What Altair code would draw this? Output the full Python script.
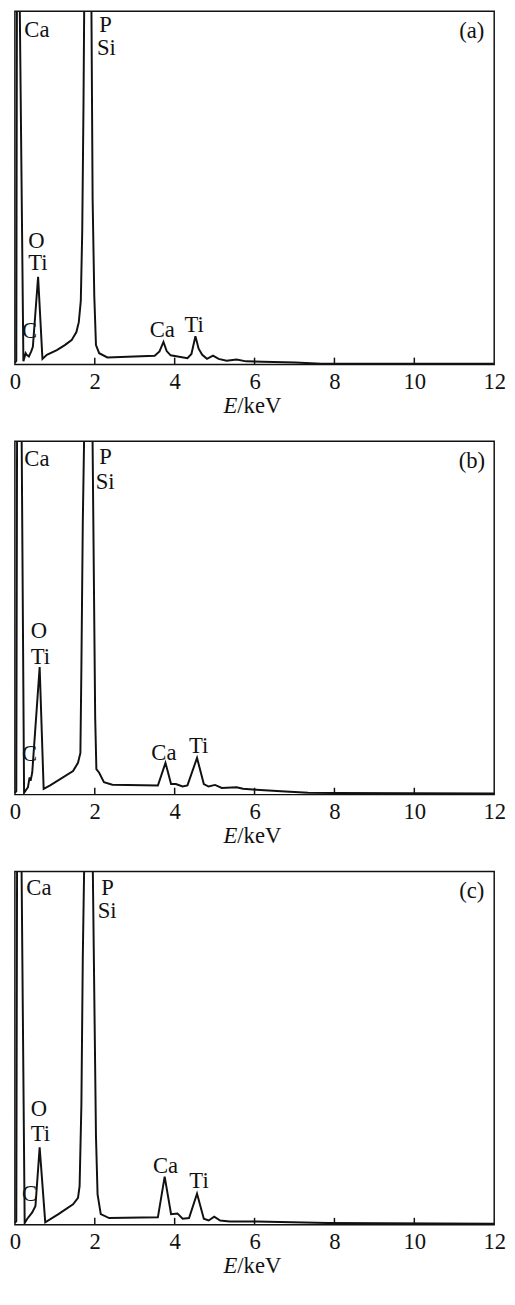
import altair as alt
import pandas as pd

# ---------------- data ----------------
# Panel (a)
a_E = [0.0, 0.035, 0.055, 0.114, 0.213, 0.27, 0.294, 0.351, 0.409, 0.45, 0.581, 0.69, 0.80, 1.05, 1.25,
       1.42, 1.54, 1.60, 1.65, 1.686, 1.718, 1.76, 1.85, 1.90, 1.946, 1.988, 2.03, 2.11, 2.315, 3.50,
       3.62, 3.72, 3.80, 3.90, 4.32, 4.42, 4.52, 4.60, 4.69, 4.81, 4.96, 5.10, 5.30, 5.55, 5.79, 6.2,
       7.02, 7.67, 12.0]
a_I = [0.5, 1.0, 130, 110, 0.9, 3.2, 2.75, 2.3, 3.7, 5.0, 24.8, 1.6, 2.75, 4.1, 5.5,
       6.9, 9.2, 12.0, 18.0, 37.7, 74.0, 140, 180, 130, 46.8, 19.3, 5.5, 3.2, 2.0, 2.5,
       3.7, 6.4, 3.8, 2.6, 1.8, 3.0, 8.0, 4.5, 2.75, 1.6, 2.5, 1.6, 1.1, 1.4, 0.9, 0.8,
       0.6, 0.2, 0.2]

# Panel (b)
b_E = [0.0, 0.035, 0.06, 0.164, 0.23, 0.327, 0.368, 0.393, 0.434, 0.62, 0.72, 0.883, 1.456, 1.58,
       1.64, 1.665, 1.70, 1.76, 1.85, 1.92, 2.01, 2.04, 2.11, 2.23, 2.44, 3.58, 3.77, 3.91, 4.03,
       4.20, 4.32, 4.56, 4.73, 4.85, 5.01, 5.18, 5.55, 5.71, 6.04, 6.77, 7.34, 8.0, 12.0]
b_I = [0.5, 1.0, 130, 110, 0.5, 2.1, 4.9, 3.9, 6.2, 36.1, 1.65, 2.6, 6.7, 9.0,
       11.8, 36.0, 77.0, 120, 180, 130, 22.0, 7.2, 6.2, 3.5, 2.8, 2.6, 9.0, 3.0, 3.0,
       2.3, 2.6, 10.4, 3.0, 2.3, 2.75, 1.9, 2.1, 1.65, 1.4, 0.9, 0.55, 0.45, 0.3]

# Panel (c)
c_E = [0.0, 0.035, 0.06, 0.16, 0.245, 0.31, 0.434, 0.515, 0.62, 0.76, 1.09, 1.456, 1.58, 1.62,
       1.665, 1.70, 1.76, 1.85, 1.92, 2.03, 2.07, 2.15, 2.36, 3.58, 3.75, 3.91, 4.07, 4.20, 4.36,
       4.56, 4.73, 4.85, 4.99, 5.14, 5.38, 6.04, 7.84, 12.0]
c_I = [0.5, 1.0, 130, 110, 0.5, 1.7, 3.5, 5.3, 21.9, 0.7, 3.0, 5.8, 7.6, 10.9,
       34.0, 75.7, 120, 180, 130, 25.0, 8.6, 3.0, 1.9, 2.1, 13.6, 3.0, 3.2, 1.7, 1.9,
       8.8, 1.7, 1.2, 2.3, 1.2, 0.9, 0.9, 0.5, 0.3]

# Peak labels: text, energy (keV), height (baseline, same units as intensity)
lab_text = ["Ca", "P", "Si", "O", "Ti", "C", "Ca", "Ti"]
a_lab_E = [0.55, 2.27, 2.29, 0.54, 0.577, 0.37, 3.69, 4.49]
a_lab_I = [92.8, 94.2, 87.6, 33.1, 26.7, 7.4, 7.7, 9.1]
b_lab_E = [0.55, 2.27, 2.26, 0.60, 0.64, 0.37, 3.73, 4.60]
b_lab_I = [93.0, 93.5, 86.5, 44.4, 36.9, 9.4, 9.9, 11.8]
c_lab_E = [0.60, 2.32, 2.31, 0.60, 0.64, 0.37, 3.77, 4.61]
c_lab_I = [93.2, 93.4, 86.7, 30.8, 23.7, 6.6, 14.6, 10.5]

panel_letters = ["(a)", "(b)", "(c)"]
letter_E = 11.44
letter_I = 92.5

tick_values = [2, 4, 6, 8, 10]
tick_labels = [0, 2, 4, 6, 8, 10, 12]
x_title_italic = "E"
x_title_rest = "/keV"

# ---------------- styling ----------------
FONT = "Liberation Serif"
FS = 23
W, H = 487, 359
INK = "#111111"


def panel(E, I, lab_E, lab_I, letter):
    x_enc = alt.X(
        "E:Q",
        scale=alt.Scale(domain=[0, 12], nice=False, zero=False),
        axis=alt.Axis(values=tick_labels, title=None, ticks=False, domain=False, grid=False,
                      labelFont=FONT, labelFontSize=FS, labelColor=INK, labelPadding=24,
                      labelBaseline="alphabetic", labelFlush=False, labelOverlap=False),
    )
    y_enc = alt.Y("I:Q", scale=alt.Scale(domain=[0, 100], nice=False, zero=False), axis=None)

    spec = pd.DataFrame({"E": E, "I": I})
    line = alt.Chart(spec).mark_line(color=INK, strokeWidth=2, clip=True).encode(x=x_enc, y=y_enc)

    labs = pd.DataFrame({"E": lab_E, "I": lab_I, "t": lab_text})
    labels = alt.Chart(labs).mark_text(
        font=FONT, fontSize=FS, color=INK, align="center", baseline="alphabetic"
    ).encode(x=x_enc, y=y_enc, text="t:N")

    let = pd.DataFrame({"E": [letter_E], "I": [letter_I], "t": [letter]})
    letter_mark = alt.Chart(let).mark_text(
        font=FONT, fontSize=FS, color=INK, align="center", baseline="alphabetic"
    ).encode(x=x_enc, y=y_enc, text="t:N")

    tdf = pd.DataFrame({"E": tick_values})
    ticks = alt.Chart(tdf).mark_rule(color=INK, strokeWidth=1.5).encode(
        x=x_enc, y=alt.value(H), y2=alt.value(H - 7)
    )

    t1 = alt.Chart(pd.DataFrame({"t": [x_title_italic]})).mark_text(
        font=FONT, fontSize=FS, fontStyle="italic", color=INK, align="left", baseline="alphabetic"
    ).encode(x=alt.value(212), y=alt.value(H + 49), text="t:N")
    t2 = alt.Chart(pd.DataFrame({"t": [x_title_rest]})).mark_text(
        font=FONT, fontSize=FS, color=INK, align="left", baseline="alphabetic"
    ).encode(x=alt.value(226), y=alt.value(H + 49), text="t:N")

    return alt.layer(line, labels, letter_mark, ticks, t1, t2).properties(width=W, height=H)


pa = panel(a_E, a_I, a_lab_E, a_lab_I, panel_letters[0])
pb = panel(b_E, b_I, b_lab_E, b_lab_I, panel_letters[1])
pc = panel(c_E, c_I, c_lab_E, c_lab_I, panel_letters[2])

chart = alt.vconcat(pa, pb, pc, spacing=78, bounds="flush").properties(
    padding={"left": 0, "top": -8, "right": 0, "bottom": -3},
).configure_view(stroke=INK, strokeWidth=1.5)

chart.save("out.html", embed_options={"renderer": "svg", "actions": False})
